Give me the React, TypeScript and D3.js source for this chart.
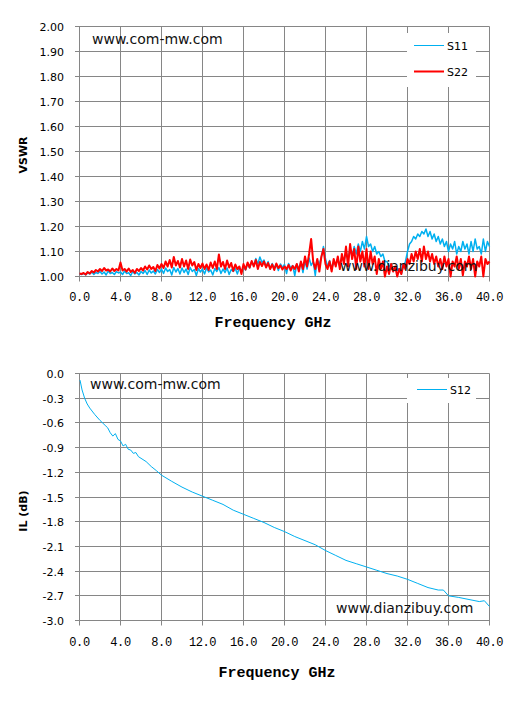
import React from "react";
import * as d3 from "d3";

// ---------- data ----------
const FREQ_TICKS = [0, 4, 8, 12, 16, 20, 24, 28, 32, 36, 40];
const VSWR_TICKS = [1.0, 1.1, 1.2, 1.3, 1.4, 1.5, 1.6, 1.7, 1.8, 1.9, 2.0];
const IL_TICKS = [0, -0.3, -0.6, -0.9, -1.2, -1.5, -1.8, -2.1, -2.4, -2.7, -3.0];

const VSWR_STEP = 0.2; // GHz between samples, starting at 0 GHz

const S11 = [
  1.010, 1.008, 1.012, 1.006, 1.015, 1.010, 1.018, 1.008, 1.016, 1.012,
  1.020, 1.010, 1.018, 1.006, 1.022, 1.012, 1.016, 1.008, 1.020, 1.014,
  1.018, 1.008, 1.022, 1.012, 1.015, 1.004, 1.020, 1.010, 1.016, 1.006,
  1.020, 1.012, 1.024, 1.008, 1.026, 1.014, 1.022, 1.010, 1.028, 1.016,
  1.030, 1.012, 1.034, 1.020, 1.028, 1.006, 1.036, 1.018, 1.032, 1.010,
  1.034, 1.016, 1.030, 1.008, 1.036, 1.020, 1.028, 1.004, 1.032, 1.018,
  1.030, 1.010, 1.034, 1.018, 1.026, 1.006, 1.032, 1.020, 1.036, 1.012,
  1.030, 1.016, 1.034, 1.008, 1.028, 1.020, 1.032, 1.010, 1.036, 1.018,
  1.040, 1.026, 1.050, 1.034, 1.060, 1.044, 1.072, 1.050, 1.078, 1.056,
  1.066, 1.040, 1.060, 1.030, 1.052, 1.036, 1.046, 1.024, 1.050, 1.036,
  1.048, 1.012, 1.052, 1.034, 1.044, 1.004, 1.050, 1.030, 1.058, 1.016,
  1.062, 1.030, 1.074, 1.044, 1.060, 1.004, 1.066, 1.050, 1.078, 1.120,
  1.070, 1.040, 1.064, 1.030, 1.058, 1.046, 1.072, 1.040, 1.080, 1.060,
  1.100, 1.070, 1.110, 1.080, 1.120, 1.090, 1.130, 1.100, 1.140, 1.110,
  1.160, 1.120, 1.130, 1.100, 1.120, 1.090, 1.100, 1.080, 1.090, 1.060,
  1.060, 1.040, 1.050, 1.020, 1.040, 1.030, 1.030, 1.010, 1.040, 1.060,
  1.100, 1.130, 1.140, 1.160, 1.150, 1.170, 1.160, 1.180, 1.170, 1.190,
  1.160, 1.180, 1.150, 1.170, 1.140, 1.160, 1.130, 1.150, 1.120, 1.140,
  1.100, 1.130, 1.110, 1.140, 1.090, 1.120, 1.100, 1.140, 1.110, 1.130,
  1.090, 1.140, 1.100, 1.150, 1.110, 1.120, 1.090, 1.150, 1.100, 1.140,
  1.120,
];

const S22 = [
  1.012, 1.010, 1.014, 1.008, 1.018, 1.012, 1.022, 1.016, 1.026, 1.020,
  1.030, 1.022, 1.034, 1.024, 1.028, 1.020, 1.032, 1.022, 1.030, 1.024,
  1.056, 1.024, 1.030, 1.020, 1.032, 1.018, 1.026, 1.014, 1.030, 1.022,
  1.034, 1.024, 1.040, 1.028, 1.044, 1.030, 1.038, 1.022, 1.046, 1.032,
  1.050, 1.034, 1.060, 1.040, 1.066, 1.036, 1.078, 1.044, 1.062, 1.036,
  1.070, 1.040, 1.064, 1.030, 1.068, 1.044, 1.058, 1.026, 1.050, 1.034,
  1.052, 1.030, 1.048, 1.026, 1.056, 1.034, 1.060, 1.030, 1.088, 1.040,
  1.058, 1.030, 1.064, 1.036, 1.054, 1.022, 1.048, 1.030, 1.040, 1.010,
  1.050, 1.028, 1.056, 1.036, 1.062, 1.040, 1.066, 1.030, 1.058, 1.042,
  1.060, 1.036, 1.054, 1.030, 1.048, 1.026, 1.052, 1.034, 1.044, 1.028,
  1.040, 1.030, 1.046, 1.024, 1.042, 1.030, 1.050, 1.020, 1.060, 1.030,
  1.080, 1.040, 1.090, 1.150, 1.060, 1.030, 1.070, 1.020, 1.080, 1.110,
  1.050, 1.030, 1.060, 1.020, 1.070, 1.040, 1.080, 1.030, 1.090, 1.050,
  1.120, 1.040, 1.130, 1.070, 1.110, 1.030, 1.120, 1.060, 1.100, 1.040,
  1.110, 1.030, 1.100, 1.050, 1.080, 1.010, 1.070, 1.030, 1.060, 1.000,
  1.040, 1.010, 1.050, 1.020, 1.040, 1.000, 1.030, 1.010, 1.050, 1.030,
  1.070, 1.050, 1.090, 1.060, 1.100, 1.070, 1.110, 1.060, 1.120, 1.070,
  1.100, 1.060, 1.090, 1.050, 1.080, 1.040, 1.070, 1.030, 1.080, 1.040,
  1.070, 1.000, 1.060, 1.040, 1.080, 1.030, 1.070, 1.005, 1.060, 1.040,
  1.080, 1.030, 1.070, 1.000, 1.060, 1.040, 1.080, 1.000, 1.070, 1.050,
  1.060,
];

const S12_FREQ = [
  0.05, 0.25, 0.5, 0.75, 1.0, 1.5, 2.0, 2.5, 2.75, 3.0, 3.25, 3.5, 3.75, 4.0,
  4.25, 4.5, 4.75, 5.0, 5.25, 5.5, 5.75, 6.0, 6.5, 7.0, 7.5, 8.0, 9.0, 10.0,
  11.0, 12.0, 13.0, 14.0, 15.0, 16.0, 17.0, 18.0, 19.0, 20.0, 21.0, 22.0, 23.0,
  24.0, 25.0, 26.0, 27.0, 28.0, 29.0, 30.0, 31.0, 32.0, 33.0, 34.0, 35.0, 35.5,
  36.0, 37.0, 38.0, 39.0, 39.5, 40.0,
];
const S12 = [
  -0.08, -0.20, -0.30, -0.37, -0.42, -0.50, -0.57, -0.63, -0.66, -0.72, -0.76, -0.73, -0.80, -0.82,
  -0.88, -0.86, -0.92, -0.93, -0.97, -0.96, -1.01, -1.03, -1.07, -1.13, -1.18, -1.235, -1.31, -1.38,
  -1.44, -1.49, -1.54, -1.59, -1.66, -1.71, -1.76, -1.81, -1.87, -1.92, -1.98, -2.03, -2.08,
  -2.15, -2.21, -2.27, -2.31, -2.35, -2.39, -2.43, -2.46, -2.50, -2.55, -2.60, -2.63, -2.63,
  -2.70, -2.72, -2.745, -2.77, -2.76, -2.83,
];

// ---------- styles ----------
const GRID = "#868686";
const BLUE = "#00B0F0";
const RED = "#FF0000";
const SANS = "'DejaVu Sans', Verdana, sans-serif";
const MONO = "'Liberation Mono', 'Courier New', monospace";

type PanelProps = {
  y: d3.ScaleLinear<number, number>;
  yTicks: number[];
  yFmt: (v: number) => string;
  yTitle: string;
  yTitleCy: number;
  xTickY: number;
  xTitleX: number;
  xTitleY: number;
};

const x = d3.scaleLinear().domain([0, 40]).range([79.5, 489.5]);

function Panel({ y, yTicks, yFmt, yTitle, yTitleCy, xTickY, xTitleX, xTitleY }: PanelProps) {
  const [y0, y1] = y.range();
  const bottom = Math.max(y0, y1);
  const top = Math.min(y0, y1);
  const px = (v: number) => Math.round(v - 0.5) + 0.5;
  return (
    <g>
      {yTicks.map((t) => (
        <g key={"h" + t}>
          <line x1={75} x2={489.5} y1={px(y(t))} y2={px(y(t))} stroke={GRID} strokeWidth={1} />
          <text x={64} y={px(y(t)) + 4} textAnchor="end" fontFamily={SANS} fontSize={11} fill="#000">
            {yFmt(t)}
          </text>
        </g>
      ))}
      {FREQ_TICKS.map((t) => (
        <g key={"v" + t}>
          <line x1={x(t)} x2={x(t)} y1={top} y2={bottom + 5} stroke={GRID} strokeWidth={1} />
          <text x={x(t)} y={xTickY} textAnchor="middle" fontFamily={MONO} fontSize={12} letterSpacing={-0.4} fill="#000">
            {t.toFixed(1)}
          </text>
        </g>
      ))}
      <text
        transform={`translate(27,${yTitleCy}) rotate(-90)`}
        textAnchor="middle"
        fontFamily={SANS}
        fontWeight="bold"
        fontSize={11}
        fill="#000"
      >
        {yTitle}
      </text>
      <text x={xTitleX} y={xTitleY} textAnchor="middle" fontFamily={MONO} fontWeight="bold" fontSize={15} fill="#000">
        Frequency GHz
      </text>
    </g>
  );
}

export default function App() {
  const yTop = d3.scaleLinear().domain([1, 2]).range([276.5, 26.5]);
  const yBot = d3.scaleLinear().domain([-3, 0]).range([620.5, 373.5]);

  const vswrLine = d3
    .line<number>()
    .x((_, i) => x(i * VSWR_STEP))
    .y((v) => yTop(v));

  const ilLine = d3
    .line<number>()
    .x((_, i) => x(S12_FREQ[i]))
    .y((v) => yBot(v));

  return (
    <div style={{ position: "absolute", left: 0, top: 0 }}>
      <svg width={516} height={701} style={{ display: "block", background: "#fff" }}>
        <rect width={516} height={701} fill="#fff" />

        {/* ---------- VSWR panel ---------- */}
        <Panel
          y={yTop}
          yTicks={VSWR_TICKS}
          yFmt={(v) => v.toFixed(2)}
          yTitle="VSWR"
          yTitleCy={155}
          xTickY={301}
          xTitleX={273}
          xTitleY={327}
        />
        <path d={vswrLine(S11) ?? ""} fill="none" stroke={BLUE} strokeWidth={1.5} strokeLinejoin="round" />
        <path d={vswrLine(S22) ?? ""} fill="none" stroke={RED} strokeWidth={2} strokeLinejoin="round" />
        <text x={92} y={44} fontFamily={SANS} fontSize={14} fill="#111">
          www.com-mw.com
        </text>
        <text x={340} y={271} fontFamily={SANS} fontSize={14} fill="#111">
          www.dianzibuy.com
        </text>
        <rect x={407} y={33} width={69} height={54} fill="#fff" />
        <line x1={414} x2={444} y1={45.5} y2={45.5} stroke={BLUE} strokeWidth={1} />
        <text x={447} y={49.5} fontFamily={SANS} fontSize={11} fill="#000">
          S11
        </text>
        <line x1={414} x2={444} y1={71.5} y2={71.5} stroke={RED} strokeWidth={2} />
        <text x={447} y={75.5} fontFamily={SANS} fontSize={11} fill="#000">
          S22
        </text>

        {/* ---------- IL panel ---------- */}
        <Panel
          y={yBot}
          yTicks={IL_TICKS}
          yFmt={(v) => v.toFixed(1)}
          yTitle="IL (dB)"
          yTitleCy={511}
          xTickY={646}
          xTitleX={277}
          xTitleY={677}
        />
        <path d={ilLine(S12) ?? ""} fill="none" stroke={BLUE} strokeWidth={1} strokeLinejoin="round" />
        <text x={90} y={389} fontFamily={SANS} fontSize={14} fill="#111">
          www.com-mw.com
        </text>
        <text x={336} y={613} fontFamily={SANS} fontSize={14} fill="#111">
          www.dianzibuy.com
        </text>
        <rect x={407} y={378} width={69} height={25} fill="#fff" />
        <line x1={417} x2={447} y1={389.5} y2={389.5} stroke={BLUE} strokeWidth={1} />
        <text x={450} y={393.5} fontFamily={SANS} fontSize={11} fill="#000">
          S12
        </text>
      </svg>
    </div>
  );
}
